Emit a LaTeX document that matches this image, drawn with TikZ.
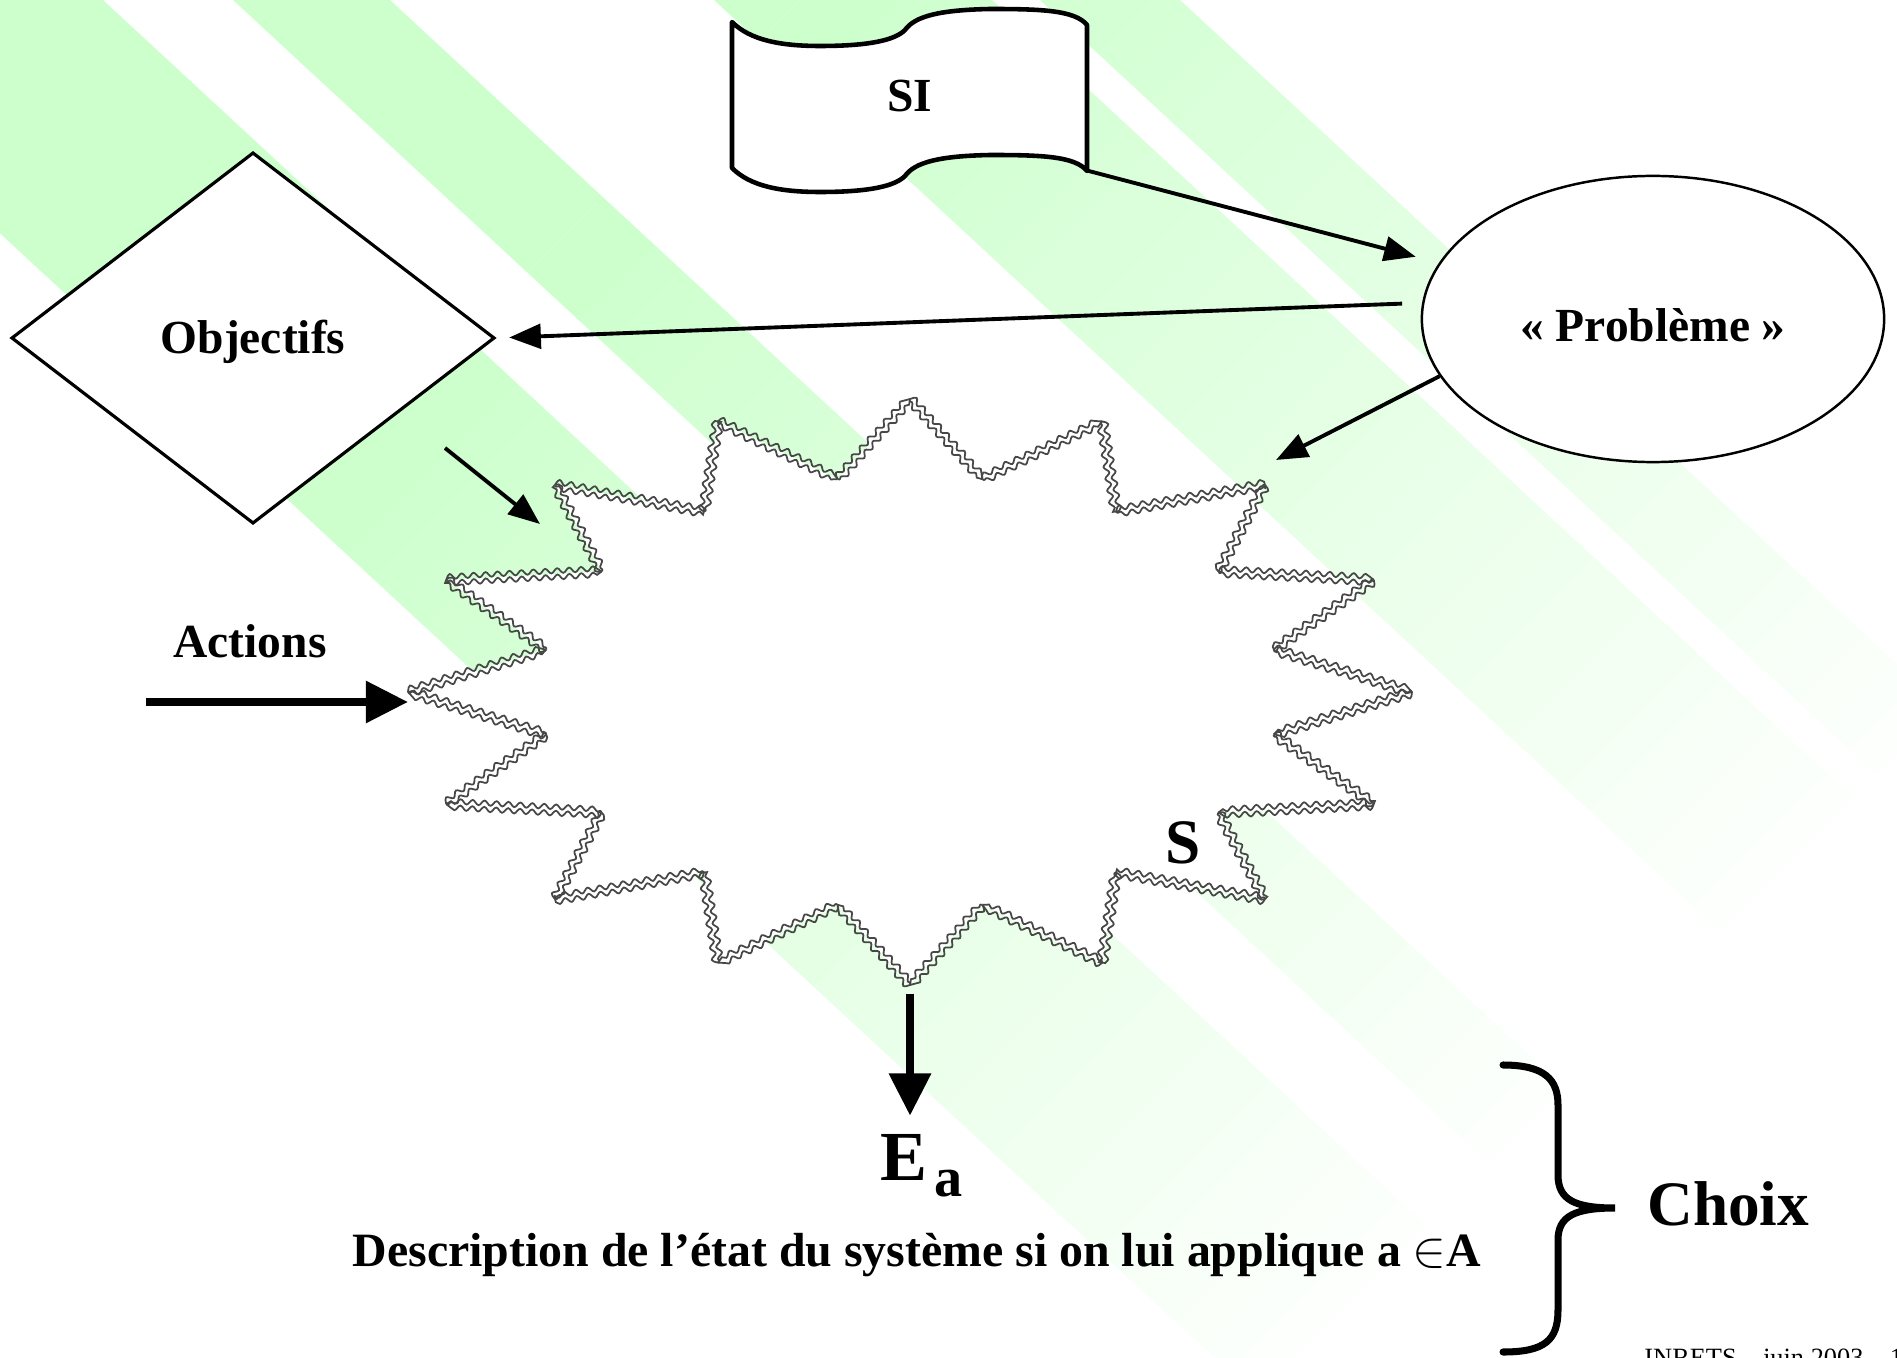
\documentclass[tikz,border=0pt]{standalone}
\usepackage{fontspec}
\setmainfont{Liberation Serif}
\usetikzlibrary{arrows.meta,shapes.geometric,decorations.pathmorphing,calc}
\definecolor{bandgreen}{RGB}{204,255,204}

\begin{document}
\begin{tikzpicture}[x=0.01cm,y=-0.01cm,
  arr/.style={-{Triangle[length=9pt,width=7pt]}, line width=1.1pt},
  bigarr/.style={-{Triangle[length=12pt,width=11.5pt]}, line width=2.3pt},
  lbl/.style={font=\fontsize{13.5}{16}\selectfont\bfseries},
  wave/.style={draw=black!72, line width=0.5pt, decorate,
    decoration={snake, segment length=3.4pt, amplitude=0.7pt, raise=#1}}]
\useasboundingbox (0,0) rectangle (1897,1358);
\clip (0,0) rectangle (1897,1358);
% background bands, fading to the lower right
\begin{scope}
\clip \foreach \a/\b in {-252/103,233/390,714/992,1040/1180}
  { (\a-108,-100) -- (\b-108,-100) -- (\b+1620,1500) -- (\a+1620,1500) -- cycle };
\fill[bandgreen] (-800,-200) -- (1000,-200) -- (-800,1600) -- cycle;
\foreach \i in {0,...,37} {
  \pgfmathsetmacro\pct{100-\i*100/38}
  \fill[bandgreen!\pct!white] ({1000+\i*50},-200) -- ({1051+\i*50},-200)
    -- ({-749+\i*50},1600) -- ({-800+\i*50},1600) -- cycle;
}
\end{scope}

% SI
\filldraw[fill=white, line width=1.3pt, line join=round]
  (732,22) .. controls (750,40) and (780,46) .. (820,46)
  .. controls (870,46) and (895,40) .. (905,30)
  .. controls (915,16) and (940,10) .. (990,9)
  .. controls (1040,9) and (1075,10) .. (1087,25)
  -- (1087,171)
  .. controls (1075,156) and (1040,155) .. (990,155)
  .. controls (940,156) and (915,162) .. (905,176)
  .. controls (895,186) and (870,192) .. (820,192)
  .. controls (780,192) and (750,186) .. (732,168) -- cycle;
\node[lbl, minimum width=3.55cm, minimum height=1.48cm, inner sep=0pt] (si) at (909.5,96) {SI};

\node[draw, fill=white, diamond, minimum width=4.83cm, minimum height=3.71cm,
  inner sep=0pt, line width=0.9pt, lbl, text height=12pt, text depth=3pt] (obj) at (253,338) {Objectifs};
\node[draw, fill=white, ellipse, minimum width=4.62cm, minimum height=2.86cm,
  line width=0.7pt, lbl, text height=16pt, text depth=3pt] (prob) at (1653,319) {«~Problème~»};

% systeme S : etoile a 16 pointes
\foreach \k in {1,...,16} {
  \coordinate (q\k) at ({910+371*cos(\k*22.5-11.25)},{692+217*sin(\k*22.5-11.25)});
  \coordinate (sp\k) at ({910+502*cos(\k*22.5)},{692+293*sin(\k*22.5)});
}
\fill[white] (sp16) \foreach \k in {1,...,16} { -- (q\k) -- (sp\k) } -- cycle;
\foreach \k in {1,...,16} {
  \pgfmathtruncatemacro\prev{mod(\k+14,16)+1}
  \draw[wave=0.9pt] (sp\prev) -- (q\k);
  \draw[wave=-0.9pt] (sp\prev) -- (q\k);
  \draw[wave=0.9pt] (q\k) -- (sp\k);
  \draw[wave=-0.9pt] (q\k) -- (sp\k);
}
\node[font=\fontsize{18}{20}\selectfont\bfseries] (slabel) at (1183,843) {S};

\node[lbl] (act) at (250,641) {Actions};
\coordinate (actA) at (146,702);
\coordinate (objA) at (445,448);
\coordinate (objB) at (540,524);
\coordinate (probB) at (1276,460);

\node[anchor=base, inner sep=5pt] (ea) at (922,1180)
  {\fontsize{20}{24}\selectfont\bfseries E\kern2pt\raisebox{-0.5ex}{\fontsize{16}{18}\selectfont a}};
\node[font=\fontsize{13.6}{16}\selectfont\bfseries] (desc) at (917,1255)
  {Description de l’état du système si on lui applique a $\in$A};
\node[anchor=west, font=\fontsize{18}{22}\selectfont\bfseries] (choix) at (1635,1204) {Choix};
\node[anchor=base west, font=\fontsize{7.5}{9}\selectfont] (foot) at (1632,1366) {INRETS – juin 2003 – 1};

% fleches
\draw[arr, shorten >=0.24cm] (si.south east) -- (prob);
\draw[arr, shorten <=0.2cm, shorten >=0.13cm] (prob.176) -- (obj.east);
\draw[arr] (prob.195) -- (probB);
\draw[arr] (objA) -- (objB);
\draw[bigarr] (actA) -- (actA -| sp8);
\draw[bigarr, shorten <=2.5pt] (sp4) -- (sp4 |- ea.north);

% accolade
\draw[line width=2pt, line cap=round]
  (1503,1065) .. controls (1545,1065) and (1558,1080) .. (1558,1105) -- (1558,1175)
  .. controls (1558,1200) and (1575,1208) .. (1615,1208)
  .. controls (1575,1208) and (1558,1216) .. (1558,1240) -- (1558,1310)
  .. controls (1558,1340) and (1545,1352) .. (1503,1352);
\end{tikzpicture}
\end{document}
